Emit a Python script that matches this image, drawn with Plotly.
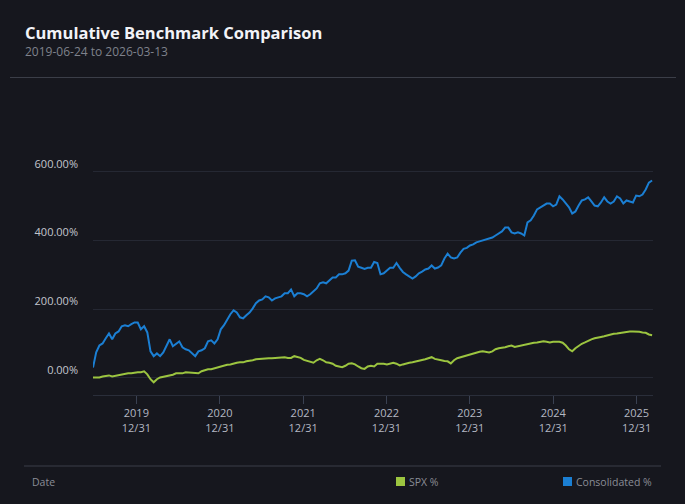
import pandas as pd
import plotly.graph_objects as go

# ---- data ----
start_date = "2019-06-24"
end_date = "2026-03-13"
dates = pd.date_range(start_date, periods=176, freq="14D")

consolidated_pct = [
    30, 74, 94, 100, 115, 129, 112, 129, 135, 150,
    153, 150, 156, 161, 161, 141, 150, 132, 77, 63,
    71, 63, 74, 94, 112, 92, 100, 106, 89, 83,
    80, 71, 63, 77, 80, 86, 106, 109, 100, 112,
    141, 153, 170, 185, 196, 190, 176, 173, 182, 190,
    202, 217, 225, 228, 237, 234, 225, 231, 234, 237,
    246, 246, 257, 237, 246, 246, 243, 237, 243, 251,
    260, 275, 278, 275, 283, 292, 292, 301, 301, 304,
    312, 341, 342, 323, 320, 317, 320, 320, 337, 334,
    301, 304, 312, 320, 320, 334, 320, 308, 301, 295,
    289, 295, 304, 309, 315, 318, 327, 318, 321, 327,
    347, 361, 350, 347, 350, 364, 375, 378, 385, 388,
    394, 397, 400, 403, 405, 408, 414, 420, 426, 437,
    437, 423, 420, 423, 420, 414, 452, 458, 472, 490,
    496, 501, 507, 507, 499, 504, 528, 519, 507, 496,
    478, 484, 501, 516, 519, 525, 513, 501, 499, 510,
    525, 513, 507, 513, 528, 522, 507, 516, 513, 510,
    530, 528, 533, 548, 568, 574,
]

spx_pct = [
    1, 1, 1, 4, 6, 7, 4, 6, 7, 10,
    10, 13, 13, 15, 16, 16, 19, 10, -4, -13,
    -4, 1, 3, 4, 7, 9, 13, 13, 13, 16,
    15, 13, 13, 13, 19, 22, 25, 25, 28, 31,
    33, 36, 38, 39, 42, 44, 45, 45, 48, 49,
    51, 54, 55, 57, 57, 57, 57, 58, 60, 60,
    60, 58, 58, 63, 61, 58, 52, 49, 48, 44,
    51, 55, 51, 45, 44, 41, 35, 32, 31, 35,
    41, 42, 39, 33, 28, 26, 33, 35, 33, 41,
    42, 41, 39, 42, 44, 41, 36, 39, 42, 44,
    45, 48, 51, 52, 54, 57, 60, 55, 52, 51,
    49, 48, 42, 51, 57, 60, 63, 65, 68, 71,
    74, 76, 77, 76, 74, 77, 83, 86, 87, 89,
    92, 94, 90, 92, 94, 97, 100, 100, 102, 103,
    105, 106, 105, 103, 105, 106, 105, 102, 94, 83,
    77, 86, 93, 99, 103, 108, 112, 115, 118, 119,
    121, 124, 126, 128, 129, 131, 132, 134, 135, 135,
    135, 134, 132, 131, 126, 124,
]

tick_dates = ["2019-12-31", "2020-12-31", "2021-12-31", "2022-12-31",
              "2023-12-31", "2024-12-31", "2025-12-31"]
tick_text = ["2019<br>12/31", "2020<br>12/31", "2021<br>12/31", "2022<br>12/31",
             "2023<br>12/31", "2024<br>12/31", "2025<br>12/31"]
y_ticks = [0, 200, 400, 600]
y_tick_text = ["0.00%", "200.00%", "400.00%", "600.00%"]

title_text = "Cumulative Benchmark Comparison"
subtitle_text = f"{start_date} to {end_date}"
series_names = ["SPX %", "Consolidated %"]

# ---- style ----
BG = "#16171e"
BLUE = "#1b7fd3"
GREEN = "#9cc540"
FONT = "Open Sans"

fig = go.Figure()
fig.add_trace(go.Scatter(x=dates, y=spx_pct, mode="lines", name=series_names[0],
                         line=dict(color=GREEN, width=2), hoverinfo="skip"))
fig.add_trace(go.Scatter(x=dates, y=consolidated_pct, mode="lines", name=series_names[1],
                         line=dict(color=BLUE, width=2), hoverinfo="skip"))

W, H = 685, 504
L, R, T, B = 93, 32, 120, 109
pw, ph = W - L - R, H - T - B

def px(x):
    return (x - L) / pw

def py(y):
    return (H - B - y) / ph

fig.update_layout(
    width=W, height=H,
    margin=dict(l=L, r=R, t=T, b=B, pad=0),
    paper_bgcolor=BG, plot_bgcolor=BG,
    showlegend=False,
    font=dict(family=FONT, color="#b8bcc6", size=11),
    xaxis=dict(
        type="date",
        range=[start_date, end_date],
        tickvals=tick_dates, ticktext=tick_text,
        ticks="outside", ticklen=8, tickcolor="#3a4152", tickwidth=1,
        showgrid=False, zeroline=False,
        showline=True, linecolor="#2a2e3a", linewidth=1,
        tickfont=dict(size=11, color="#b4b8c3", family=FONT),
        fixedrange=True,
    ),
    yaxis=dict(
        range=[-50, 750],
        tickvals=y_ticks, ticktext=y_tick_text,
        showgrid=True, gridcolor="#252833", gridwidth=1,
        zeroline=False, showline=False, ticks="",
        ticklabelposition="outside top",
        ticklabelstandoff=14,
        tickfont=dict(size=11, color="#c3c6ce", family=FONT),
        fixedrange=True,
    ),
)

shapes = [
    # header separator
    dict(type="line", xref="paper", yref="paper", x0=px(10), x1=px(676), y0=py(77.5), y1=py(77.5),
         line=dict(color="#3b3e48", width=1)),
    # footer separator
    dict(type="line", xref="paper", yref="paper", x0=px(24), x1=px(661), y0=py(466), y1=py(466),
         line=dict(color="#3b3e48", width=1)),
    # legend swatches
    dict(type="rect", xref="paper", yref="paper", x0=px(396), x1=px(405), y0=py(477), y1=py(486),
         fillcolor=GREEN, line=dict(width=0)),
    dict(type="rect", xref="paper", yref="paper", x0=px(563), x1=px(572), y0=py(477), y1=py(486),
         fillcolor=BLUE, line=dict(width=0)),
]

annotations = [
    dict(text=f"<b>{title_text}</b>", xref="paper", yref="paper", x=px(23), y=py(33),
         xanchor="left", yanchor="middle", showarrow=False,
         font=dict(size=16.5, color="#f2f3f7", family=FONT)),
    dict(text=subtitle_text, xref="paper", yref="paper", x=px(23), y=py(52),
         xanchor="left", yanchor="middle", showarrow=False,
         font=dict(size=12, color="#7f828c", family=FONT)),
    dict(text="Date", xref="paper", yref="paper", x=px(30), y=py(481.5),
         xanchor="left", yanchor="middle", showarrow=False,
         font=dict(size=10.5, color="#8a8d96", family=FONT)),
    dict(text=series_names[0], xref="paper", yref="paper", x=px(407), y=py(481.5),
         xanchor="left", yanchor="middle", showarrow=False,
         font=dict(size=10.5, color="#8a8d96", family=FONT)),
    dict(text=series_names[1], xref="paper", yref="paper", x=px(574), y=py(481.5),
         xanchor="left", yanchor="middle", showarrow=False,
         font=dict(size=10.5, color="#8a8d96", family=FONT)),
]

fig.update_layout(shapes=shapes, annotations=annotations)
fig.write_html("out.html", config={"displayModeBar": False})
